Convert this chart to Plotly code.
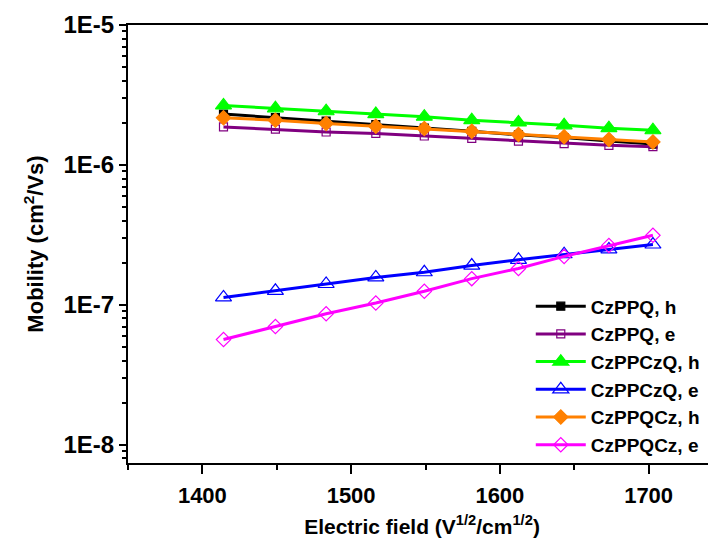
import plotly.graph_objects as go

# Electric field (V^1/2/cm^1/2)
field = [1414.2, 1449.1, 1483.2, 1516.6, 1549.2, 1581.1, 1612.5, 1643.2, 1673.3, 1702.9]

czppq_h = [2.31e-6, 2.18e-6, 2.06e-6, 1.94e-6, 1.83e-6, 1.74e-6, 1.64e-6, 1.57e-6, 1.48e-6, 1.41e-6]
czppq_e = [1.87e-6, 1.80e-6, 1.72e-6, 1.68e-6, 1.61e-6, 1.55e-6, 1.48e-6, 1.42e-6, 1.38e-6, 1.35e-6]
czppczq_h = [2.66e-6, 2.54e-6, 2.42e-6, 2.31e-6, 2.21e-6, 2.09e-6, 2.01e-6, 1.92e-6, 1.83e-6, 1.77e-6]
czppczq_e = [1.13e-7, 1.26e-7, 1.41e-7, 1.57e-7, 1.71e-7, 1.91e-7, 2.10e-7, 2.30e-7, 2.49e-7, 2.70e-7]
czppqcz_h = [2.17e-6, 2.09e-6, 1.98e-6, 1.89e-6, 1.82e-6, 1.74e-6, 1.65e-6, 1.59e-6, 1.52e-6, 1.46e-6]
czppqcz_e = [5.65e-8, 7.00e-8, 8.63e-8, 1.03e-7, 1.25e-7, 1.54e-7, 1.82e-7, 2.22e-7, 2.66e-7, 3.14e-7]

x_ticks = [1400, 1500, 1600, 1700]
y_tickvals = [1e-8, 1e-7, 1e-6, 1e-5]
y_ticktext = ["1E-8", "1E-7", "1E-6", "1E-5"]

series = [
    ("CzPPQ, h", czppq_h, "#000000", "square", 8),
    ("CzPPQ, e", czppq_e, "#800080", "square-open", 8),
    ("CzPPCzQ, h", czppczq_h, "#00FF00", "triangle-up", 14),
    ("CzPPCzQ, e", czppczq_e, "#0000FF", "triangle-up-open", 14),
    ("CzPPQCz, h", czppqcz_h, "#FF8000", "diamond", 11),
    ("CzPPQCz, e", czppqcz_e, "#FF00FF", "diamond-open", 11),
]

fig = go.Figure()
for name, vals, color, sym, size in series:
    fig.add_trace(go.Scatter(
        x=field, y=vals, name=name, mode="lines+markers",
        line=dict(color=color, width=3),
        marker=dict(symbol=sym, size=size, color=color,
                    line=dict(color=color, width=1.2)),
    ))

font_family = "Liberation Sans, Arial, sans-serif"

# page body has an 8px margin: figure is placed at (8, 8)
fig.update_layout(
    width=708, height=530,
    margin=dict(l=120, r=0, t=17, b=75, autoexpand=False),
    plot_bgcolor="white", paper_bgcolor="white",
    font=dict(family=font_family, size=20, color="black"),
    showlegend=True,
    legend=dict(
        x=0.685, y=0.401, xanchor="left", yanchor="top",
        bgcolor="rgba(0,0,0,0)", borderwidth=0,
        font=dict(family=font_family, size=19, color="black", weight="bold"),
        itemwidth=50, tracegroupgap=0,
    ),
    xaxis=dict(
        range=[1350, 1745.3],
        tickvals=x_ticks,
        ticks="outside", ticklen=9, tickwidth=2, tickcolor="black",
        ticklabelstandoff=3,
        showline=True, linewidth=2, linecolor="black", mirror=True,
        showgrid=False, zeroline=False, automargin=False,
        tickfont=dict(size=22, weight="bold"),
        minor=dict(dtick=50, ticks="outside", ticklen=5, tickwidth=2, tickcolor="black", showgrid=False),
        title=dict(text="Electric field (V<sup>1/2</sup>/cm<sup>1/2</sup>)",
                   font=dict(size=21, weight="bold"), standoff=14),
    ),
    yaxis=dict(
        type="log",
        range=[-8.13, -5],
        tickvals=y_tickvals, ticktext=y_ticktext,
        ticks="outside", ticklen=7, tickwidth=2, tickcolor="black",
        showline=True, linewidth=2, linecolor="black", mirror=False,
        showgrid=False, zeroline=False, automargin=False,
        tickfont=dict(size=24, weight="bold"),
        minor=dict(dtick="D1", ticks="outside", ticklen=4, tickwidth=1.5, tickcolor="black", showgrid=False),
        title=dict(text="Mobility (cm<sup>2</sup>/Vs)",
                   font=dict(size=22, weight="bold"), standoff=14),
    ),
)

fig.write_html("out.html")
